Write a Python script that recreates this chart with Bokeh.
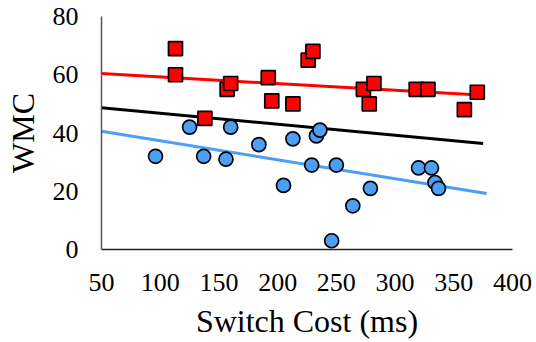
from bokeh.plotting import figure
from bokeh.models import Range1d, FixedTicker
from bokeh.embed import file_html
from bokeh.resources import INLINE

# Data
red_x = [113, 113, 138, 157, 160, 192, 195, 213, 226, 230, 273, 282, 278, 318, 328, 359, 370]
red_y = [69, 60, 45, 55, 57, 59, 51, 50, 65, 68, 55, 57, 50, 55, 55, 48, 54]

blue_x = [96, 125, 137, 156, 160, 184, 205, 213, 229, 233, 236, 250, 264, 246, 279, 320, 331, 334, 337]
blue_y = [32, 42, 32, 31, 42, 36, 22, 38, 29, 39, 41, 29, 15, 3, 21, 28, 28, 23, 21]

red_trend_x = [50, 368]
red_trend_y = [60.4, 53.1]
black_trend_x = [50, 375]
black_trend_y = [48.7, 36.4]
blue_trend_x = [50, 378]
blue_trend_y = [40.6, 19.2]

x_ticks = [50, 100, 150, 200, 250, 300, 350, 400]
y_ticks = [0, 20, 40, 60, 80]
x_title = "Switch Cost (ms)"
y_title = "WMC"

RED = "#FF0000"
BLUE = "#4BA0F5"
FONT = "Liberation Serif"

p = figure(width=536, height=342, output_backend="svg", toolbar_location=None,
           x_range=Range1d(50, 400), y_range=Range1d(0, 80),
           min_border_left=101, min_border_right=24, min_border_top=16, min_border_bottom=93)
p.outline_line_color = None
p.grid.visible = False
p.background_fill_color = "white"

p.line(red_trend_x, red_trend_y, line_color=RED, line_width=3)
p.line(black_trend_x, black_trend_y, line_color="black", line_width=3)
p.line(blue_trend_x, blue_trend_y, line_color=BLUE, line_width=3)

p.scatter(blue_x, blue_y, marker="circle", size=14, fill_color=BLUE,
          line_color="black", line_width=1.7)
p.scatter(red_x, red_y, marker="square", size=14, fill_color=RED,
          line_color="black", line_width=1.7)

for ax in (p.xaxis[0], p.yaxis[0]):
    ax.major_tick_line_color = None
    ax.minor_tick_line_color = None
    ax.major_label_text_font = FONT
    ax.major_label_text_font_size = "26px"
    ax.major_label_text_color = "black"
    ax.axis_label_text_font = FONT
    ax.axis_label_text_font_size = "32px"
    ax.axis_label_text_font_style = "normal"
    ax.axis_label_text_color = "black"

p.xaxis.ticker = FixedTicker(ticks=x_ticks)
p.yaxis.ticker = FixedTicker(ticks=y_ticks)
p.xaxis.axis_label = x_title
p.yaxis.axis_label = y_title
p.xaxis.axis_line_color = "#222222"
p.yaxis.axis_line_color = "#555555"
p.xaxis.axis_line_width = 1.5
p.yaxis.axis_line_width = 1.5
p.xaxis.major_label_standoff = 18
p.yaxis.major_label_standoff = 17
p.xaxis.axis_label_standoff = 9
p.yaxis.axis_label_standoff = 9

open("out.html", "w").write(file_html(p, INLINE))
